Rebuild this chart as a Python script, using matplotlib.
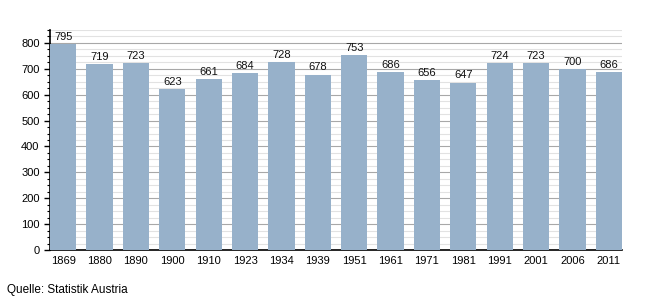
import matplotlib
matplotlib.use("Agg")
import matplotlib.pyplot as plt
from matplotlib.ticker import MultipleLocator

plt.rcParams['font.family'] = ['Liberation Sans', 'DejaVu Sans']

years = ['1869', '1880', '1890', '1900', '1910', '1923', '1934', '1939',
         '1951', '1961', '1971', '1981', '1991', '2001', '2006', '2011']
population = [795, 719, 723, 623, 661, 684, 728, 678,
              753, 686, 656, 647, 724, 723, 700, 686]

fig = plt.figure(figsize=(6.5, 3), dpi=100)
ax = fig.add_axes([50 / 650, 50 / 300, 572 / 650, 220 / 300])

x = range(len(years))
ax.bar(x, population, width=0.72, color='#97b1ca', zorder=3)
for xi, v in zip(x, population):
    ax.text(xi, v + 8, str(v), ha='center', va='bottom', fontsize=8, color='#111111')

ax.set_xlim(-0.36, len(years) - 1 + 0.36)
ax.set_ylim(0, 850)
ax.set_xticks(list(x))
ax.set_xticklabels(years)
ax.yaxis.set_major_locator(MultipleLocator(100))
ax.yaxis.set_minor_locator(MultipleLocator(25))
ax.grid(axis='y', which='major', color='#a8a8a8', linewidth=0.8, zorder=0)
ax.grid(axis='y', which='minor', color='#e2e2e2', linewidth=0.8, zorder=0)

for s in ['top', 'right']:
    ax.spines[s].set_visible(False)
ax.spines['left'].set_linewidth(1.2)
ax.spines['bottom'].set_linewidth(1.2)
ax.tick_params(axis='x', length=0, labelsize=8, pad=4)
ax.tick_params(axis='y', which='major', length=4, width=1, labelsize=8)
ax.tick_params(axis='y', which='minor', length=2, width=0.8)

fig.text(7 / 650, 1 - 290 / 300, 'Quelle: Statistik Austria', fontsize=8.5, va='center', ha='left')

fig.savefig('out.png', dpi=100)
